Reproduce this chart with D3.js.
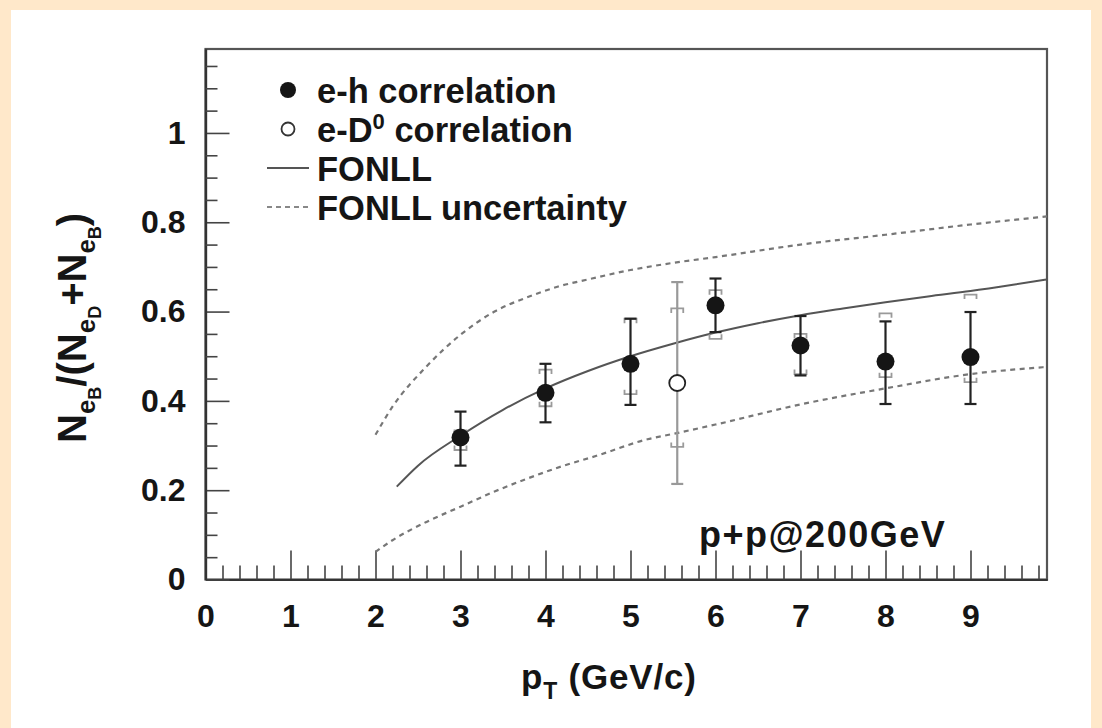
<!DOCTYPE html>
<html>
<head>
<meta charset="utf-8">
<script src="https://cdn.jsdelivr.net/npm/d3@7"></script>
<style>
html,body{margin:0;padding:0;background:#fff;}
svg{display:block;}
text{font-family:"Liberation Sans",Arial,Helvetica,sans-serif;font-weight:bold;fill:#151515;}
</style>
</head>
<body>
<svg id="chart" width="1102" height="728"></svg>
<script>
// ---------- data ----------
const ehX      = [3, 4, 5, 6, 7, 8, 9];
const ehY      = [0.318, 0.418, 0.483, 0.614, 0.524, 0.488, 0.498];
const ehStatLo = [0.255, 0.352, 0.391, 0.554, 0.457, 0.393, 0.393];
const ehStatHi = [0.376, 0.483, 0.584, 0.674, 0.590, 0.578, 0.599];
const ehSysLo  = [0.290, 0.388, 0.415, 0.539, 0.460, 0.453, 0.442];
const ehSysHi  = [0.334, 0.470, 0.584, 0.648, 0.550, 0.596, 0.638];

const edX      = [5.55];
const edY      = [0.440];
const edStatLo = [0.214];
const edStatHi = [0.666];
const edSysLo  = [0.297];
const edSysHi  = [0.607];

const fonllX   = [2.25, 2.5, 3.0, 3.5, 4.0, 4.5, 5.0, 5.5, 6.0, 6.5, 7.0, 7.5, 8.0, 8.5, 9.0, 9.5, 9.9];
const fonllY   = [0.208, 0.255, 0.322, 0.380, 0.428, 0.467, 0.500, 0.528, 0.553, 0.574, 0.592, 0.607, 0.621, 0.634, 0.646, 0.660, 0.672];

const upX      = [2.0, 2.2, 2.6, 3.0, 3.4, 3.8, 4.15, 4.5, 5.0, 5.5, 6.0, 7.0, 8.0, 9.0, 9.9];
const upY      = [0.324, 0.387, 0.477, 0.548, 0.600, 0.633, 0.656, 0.672, 0.693, 0.709, 0.722, 0.750, 0.772, 0.795, 0.813];

const loX      = [2.0, 2.2, 2.6, 3.0, 3.4, 3.8, 4.2, 4.6, 5.2, 5.5, 6.0, 7.0, 8.0, 9.0, 9.9];
const loY      = [0.062, 0.088, 0.129, 0.163, 0.197, 0.227, 0.254, 0.277, 0.314, 0.326, 0.347, 0.392, 0.428, 0.460, 0.476];

const xTicks   = [0, 1, 2, 3, 4, 5, 6, 7, 8, 9];
const yTicks   = [0, 0.2, 0.4, 0.6, 0.8, 1.0];
const yTickLabels = ["0", "0.2", "0.4", "0.6", "0.8", "1"];

const legendLabels = ["e-h correlation", "e-D0 correlation", "FONLL", "FONLL uncertainty"];
const annotation = "p+p@200GeV";

// ---------- layout ----------
const svg = d3.select("#chart");
const L = 205.5, R = 1047, T = 49, B = 579.5;
const x = d3.scaleLinear().domain([0, 9.9]).range([L, R]);
const y = d3.scaleLinear().domain([0, 1.188]).range([B, T]);

// peach page border
const peach = "#FFE8CA";
svg.append("rect").attr("x",0).attr("y",0).attr("width",1102).attr("height",10).attr("fill",peach);
svg.append("rect").attr("x",0).attr("y",0).attr("width",11).attr("height",728).attr("fill",peach);
svg.append("rect").attr("x",1091).attr("y",0).attr("width",11).attr("height",728).attr("fill",peach);

// frame
svg.append("rect").attr("x",L).attr("y",T).attr("width",R-L).attr("height",B-T)
  .attr("fill","none").attr("stroke","#555").attr("stroke-width",2.2);

// axes
const xMinor = d3.range(0.2, 9.9, 0.2).filter(v => Math.abs(v - Math.round(v)) > 1e-6);
const yMinor = d3.range(0.05, 1.16, 0.05).filter(v => Math.abs(v/0.2 - Math.round(v/0.2)) > 1e-6);

const gx = svg.append("g").attr("transform",`translate(0,${B})`)
  .call(d3.axisBottom(x).tickValues(xTicks).tickSize(-29).tickSizeOuter(0).tickPadding(25).tickFormat(d3.format("d")));
const gxm = svg.append("g").attr("transform",`translate(0,${B})`)
  .call(d3.axisBottom(x).tickValues(xMinor).tickSize(-14).tickSizeOuter(0).tickFormat(""));
const gy = svg.append("g").attr("transform",`translate(${L},0)`)
  .call(d3.axisLeft(y).tickValues(yTicks).tickSize(-24).tickSizeOuter(0).tickPadding(20)
        .tickFormat((d,i) => yTickLabels[i]));
const gym = svg.append("g").attr("transform",`translate(${L},0)`)
  .call(d3.axisLeft(y).tickValues(yMinor).tickSize(-12).tickSizeOuter(0).tickFormat(""));

[gx,gxm,gy,gym].forEach(g => {
  g.selectAll("path.domain").attr("stroke","#333").attr("stroke-width",2.2);
  g.selectAll(".tick line").attr("stroke","#444").attr("stroke-width",1.6);
  g.selectAll(".tick text").attr("font-size",32).attr("font-family","'Liberation Sans',Arial,sans-serif")
    .attr("font-weight","bold").attr("fill","#151515");
});
// remove empty label nodes of minor axes
gxm.selectAll(".tick text").remove();
gym.selectAll(".tick text").remove();

// curves
const line = d3.line().x(d => x(d[0])).y(d => y(d[1])).curve(d3.curveMonotoneX);
svg.append("path").datum(d3.zip(fonllX, fonllY)).attr("d", line)
  .attr("fill","none").attr("stroke","#555").attr("stroke-width",2);
[[upX, upY],[loX, loY]].forEach(([xs, ys]) => {
  svg.append("path").datum(d3.zip(xs, ys)).attr("d", line)
    .attr("fill","none").attr("stroke","#777").attr("stroke-width",2.2)
    .attr("stroke-dasharray","5,4.5");
});

// error bars
function drawPoints(xs, ys, sLo, sHi, yLo, yHi, filled) {
  const g = svg.append("g");
  const sysCol = "#9a9a9a";
  const barCol = filled ? "#222" : "#999";
  xs.forEach((xv, i) => {
    const cx = x(xv);
    const hw = 6, leg = 4.5;
    const yt = y(yHi[i]), yb = y(yLo[i]);
    g.append("path").attr("d", `M${cx-hw},${yt+leg}V${yt}H${cx+hw}V${yt+leg}`)
      .attr("fill","none").attr("stroke",sysCol).attr("stroke-width",1.8);
    g.append("path").attr("d", `M${cx-hw},${yb-leg}V${yb}H${cx+hw}V${yb-leg}`)
      .attr("fill","none").attr("stroke",sysCol).attr("stroke-width",1.8);
    const st = y(sHi[i]), sb = y(sLo[i]);
    g.append("line").attr("x1",cx).attr("x2",cx).attr("y1",st).attr("y2",sb)
      .attr("stroke",barCol).attr("stroke-width",2.2);
    g.append("line").attr("x1",cx-6).attr("x2",cx+6).attr("y1",st).attr("y2",st)
      .attr("stroke",barCol).attr("stroke-width",2.2);
    g.append("line").attr("x1",cx-6).attr("x2",cx+6).attr("y1",sb).attr("y2",sb)
      .attr("stroke",barCol).attr("stroke-width",2.2);
    if (filled) {
      g.append("circle").attr("cx",cx).attr("cy",y(ys[i])).attr("r",9).attr("fill","#151515");
    } else {
      g.append("circle").attr("cx",cx).attr("cy",y(ys[i])).attr("r",8).attr("fill","#fff")
        .attr("stroke","#222").attr("stroke-width",1.8);
    }
  });
}
drawPoints(ehX, ehY, ehStatLo, ehStatHi, ehSysLo, ehSysHi, true);
drawPoints(edX, edY, edStatLo, edStatHi, edSysLo, edSysHi, false);

// legend
const lg = svg.append("g");
const rowY = [90, 129, 168, 207];
lg.append("circle").attr("cx",288).attr("cy",rowY[0]).attr("r",8).attr("fill","#151515");
lg.append("circle").attr("cx",288).attr("cy",rowY[1]).attr("r",6.5).attr("fill","#fff")
  .attr("stroke","#333").attr("stroke-width",1.8);
lg.append("line").attr("x1",267).attr("x2",309).attr("y1",rowY[2]).attr("y2",rowY[2])
  .attr("stroke","#555").attr("stroke-width",2);
lg.append("line").attr("x1",267).attr("x2",309).attr("y1",rowY[3]).attr("y2",rowY[3])
  .attr("stroke","#888").attr("stroke-width",2.2).attr("stroke-dasharray","5,4");
legendLabels.forEach((t, i) => {
  const tx = lg.append("text").attr("x",317).attr("y",rowY[i] + 12.5).attr("font-size",34.5);
  if (t.indexOf("D0") >= 0) {
    tx.append("tspan").text("e-D");
    tx.append("tspan").attr("dy",-13).attr("font-size",22).text("0");
    tx.append("tspan").attr("dy",13).text(" correlation");
  } else {
    tx.text(t);
  }
});

// annotation
svg.append("text").attr("x",699).attr("y",547).attr("font-size",36).attr("letter-spacing",1.5).text(annotation);

// x axis title
const xt = svg.append("text").attr("x",521).attr("y",689).attr("font-size",35).attr("letter-spacing",0.8);
xt.append("tspan").text("p");
xt.append("tspan").attr("dy",10).attr("font-size",23).text("T");
xt.append("tspan").attr("dy",-10).text(" (GeV/c)");

// y axis title (rotated)
const yt = svg.append("text").attr("transform","translate(86,443) rotate(-90)").attr("font-size",40);
let pendingDy = 0;
function plain(s) {
  yt.append("tspan").attr("dy", pendingDy).attr("font-size",40).text(s);
  pendingDy = 0;
}
function sub(main, s1, s2) {
  plain(main);
  yt.append("tspan").attr("dy",9).attr("font-size",26).text(s1);
  yt.append("tspan").attr("dy",6).attr("font-size",18).text(s2);
  pendingDy = -15;
}
sub("N", "e", "B");
plain("/(");
sub("N", "e", "D");
plain("+");
sub("N", "e", "B");
plain(")");
</script>
</body>
</html>
